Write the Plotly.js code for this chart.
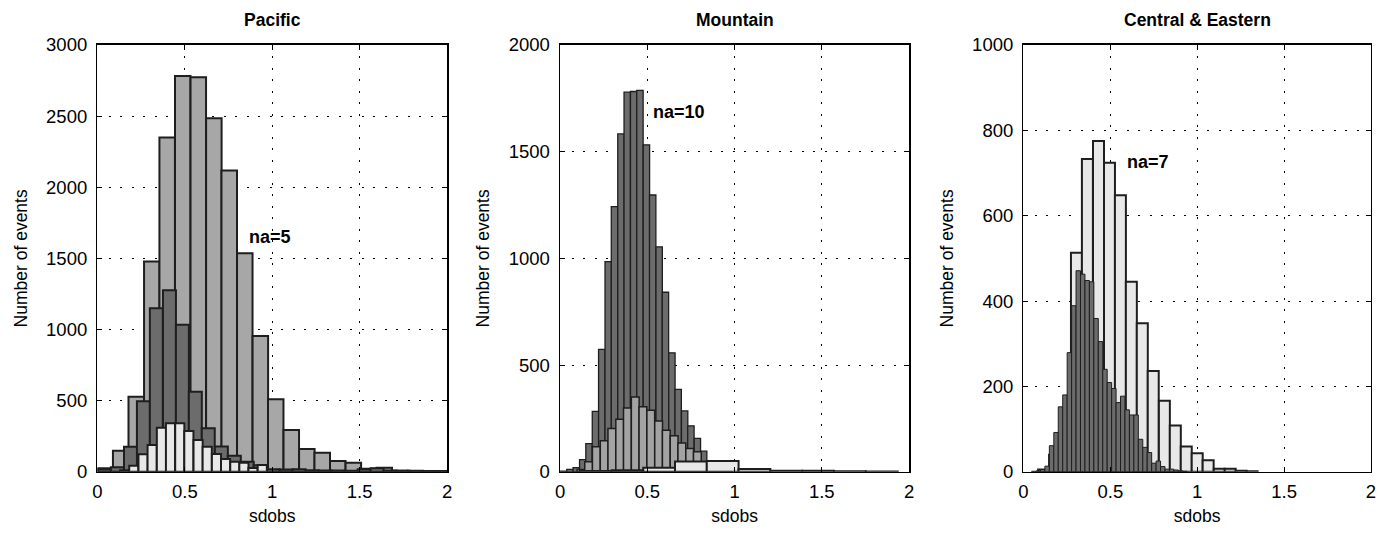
<!DOCTYPE html>
<html>
<head>
<meta charset="utf-8">
<script src="https://cdn.plot.ly/plotly-3.0.1.min.js"></script>
<style>html,body{margin:0;padding:0;background:#fff;}#chart{width:1390px;height:535px;}</style>
</head>
<body>
<div id="chart"></div>
<script>
// ---------------- data ----------------
const panelTitles = ['Pacific', 'Mountain', 'Central & Eastern'];
const naLabels = ['na=5', 'na=10', 'na=7'];
const xTickVals = [0, 0.5, 1, 1.5, 2];
const xTickText = ['0', '0.5', '1', '1.5', '2'];

// Pacific
const pacMedX = [0.044, 0.133, 0.222, 0.311, 0.399, 0.488, 0.577, 0.666, 0.754, 0.843, 0.932, 1.020, 1.109, 1.198, 1.286, 1.375, 1.464, 1.553, 1.641, 1.730, 1.819, 1.908, 1.996];
const pacMedY = [24, 148, 527, 1477, 2349, 2782, 2773, 2485, 2117, 1536, 954, 509, 293, 160, 134, 75, 63, 21, 28, 7, 7, 5, 5];
const pacDarkX = [0.040, 0.114, 0.189, 0.263, 0.337, 0.412, 0.486, 0.560, 0.634, 0.709, 0.783, 0.857, 0.931, 1.006, 1.080, 1.154, 1.229, 1.303, 1.377, 1.451, 1.526, 1.600, 1.674, 1.749, 1.823, 1.897, 1.971];
const pacDarkY = [17, 31, 176, 495, 1149, 1275, 1034, 563, 305, 178, 113, 70, 46, 17, 15, 17, 10, 8, 8, 7, 18, 24, 8, 6, 5, 4, 4];
const pacLightX = [0.156, 0.208, 0.261, 0.313, 0.366, 0.418, 0.471, 0.523, 0.576, 0.628, 0.681, 0.733, 0.786, 0.838, 0.890, 0.943];
const pacLightY = [10, 42, 122, 188, 309, 340, 340, 286, 223, 176, 124, 89, 70, 63, 26, 47];

// Mountain
const mtnDarkX = [0.020, 0.057, 0.093, 0.130, 0.166, 0.203, 0.239, 0.276, 0.312, 0.349, 0.385, 0.422, 0.458, 0.495, 0.531, 0.568, 0.604, 0.641, 0.677, 0.714, 0.750, 0.787, 0.823, 0.860, 0.896, 0.933, 0.969];
const mtnDarkY = [3, 11, 19, 57, 132, 283, 573, 985, 1242, 1583, 1779, 1782, 1787, 1532, 1297, 1054, 841, 557, 386, 285, 215, 156, 96, 50, 20, 10, 5];
const mtnMedX = [0.120, 0.164, 0.208, 0.253, 0.297, 0.342, 0.386, 0.431, 0.475, 0.520, 0.565, 0.609, 0.654, 0.698, 0.743, 0.787, 0.832];
const mtnMedY = [10, 47, 117, 145, 202, 246, 299, 350, 304, 288, 238, 194, 168, 135, 109, 93, 30];
const mtnLightX = [0.205, 0.387, 0.568, 0.750, 0.932, 1.114, 1.297, 1.479, 1.661, 1.844];
const mtnLightY = [3, 7, 19, 48, 50, 13, 5, 4, 2, 1];

// Central & Eastern
const cenLightX = [0.116, 0.179, 0.242, 0.305, 0.368, 0.432, 0.495, 0.558, 0.621, 0.684, 0.747, 0.811, 0.874, 0.937, 1.000, 1.063, 1.127, 1.190, 1.253, 1.316];
const cenLightY = [5, 40, 140, 513, 733, 775, 724, 648, 445, 348, 236, 166, 108, 59, 43, 27, 7, 7, 2, 1];
const cenDarkX = [0.0595, 0.0851, 0.1107, 0.1363, 0.1619, 0.1875, 0.2131, 0.2387, 0.2643, 0.2899, 0.3155, 0.3411, 0.3667, 0.3923, 0.4179, 0.4435, 0.4691, 0.4947, 0.5203, 0.5459, 0.5715, 0.5971, 0.6227, 0.6483, 0.6739, 0.6995, 0.7251, 0.7507, 0.7763, 0.8019, 0.8275, 0.8531, 0.8787, 0.9043, 0.9299];
const cenDarkY = [1, 2, 5, 13, 61, 92, 152, 180, 279, 389, 471, 463, 448, 445, 359, 305, 240, 209, 195, 162, 177, 145, 133, 133, 76, 57, 45, 20, 25, 12, 6, 6, 4, 2, 1];

// ---------------- style ----------------
const FONT = 'Liberation Sans, Arial, Helvetica, sans-serif';
const EDGE = '#1e1e1e';
const C_MED = '#a7a7a7', C_DARK = '#6c6c6c', C_LIGHT = '#e8e8e8';

function bars(x, y, w, color, lw, ax) {
  return {
    type: 'bar', x: x, y: y, width: w,
    marker: {color: color, line: {color: EDGE, width: lw}},
    xaxis: 'x' + ax, yaxis: 'y' + ax, hoverinfo: 'skip', showlegend: false
  };
}

const data = [
  bars(pacMedX, pacMedY, 0.0887, C_MED, 2, ''),
  bars(pacDarkX, pacDarkY, 0.0743, C_DARK, 2, ''),
  bars(pacLightX, pacLightY, 0.0524, C_LIGHT, 2, ''),
  bars(mtnDarkX, mtnDarkY, 0.0365, C_DARK, 1.3, '2'),
  bars(mtnMedX, mtnMedY, 0.04455, '#a3a3a3', 1.5, '2'),
  bars(mtnLightX, mtnLightY, 0.1823, C_LIGHT, 2, '2'),
  bars(cenLightX, cenLightY, 0.0632, C_LIGHT, 2, '3'),
  bars(cenDarkX, cenDarkY, 0.0256, C_DARK, 1, '3')
];

const xDomains = [[0.0701, 0.3216], [0.4029, 0.6540], [0.7363, 0.9863]];
const yDomain = [0.1183, 0.9159];
const yRanges = [[0, 3000], [0, 2000], [0, 1000]];
const yDticks = [500, 500, 200];

function xaxis(i) {
  return {
    domain: xDomains[i], range: [0, 2], anchor: i === 0 ? 'y' : 'y' + (i + 1),
    tickvals: xTickVals, ticktext: xTickText,
    showline: true, linecolor: '#000', linewidth: 1.5, mirror: 'ticks',
    ticks: 'inside', ticklen: 5, tickcolor: '#000', tickwidth: 1,
    showgrid: true, gridcolor: '#000', gridwidth: 1, griddash: '2px,9.5px',
    zeroline: false, automargin: false, fixedrange: true,
    tickfont: {family: FONT, size: 18.5, color: '#000'}, ticklabelstandoff: 3,
    title: {text: 'sdobs', font: {family: FONT, size: 17.5, color: '#000'}, standoff: 8}
  };
}
function yaxis(i) {
  return {
    domain: yDomain, range: yRanges[i], dtick: yDticks[i], anchor: i === 0 ? 'x' : 'x' + (i + 1),
    showline: true, linecolor: '#000', linewidth: 1.5, mirror: 'ticks',
    ticks: 'inside', ticklen: 5, tickcolor: '#000', tickwidth: 1,
    showgrid: true, gridcolor: '#000', gridwidth: 1, griddash: '2px,9.5px',
    zeroline: false, automargin: false, fixedrange: true,
    tickfont: {family: FONT, size: 18.5, color: '#000'}, ticklabelstandoff: 5,
    title: {text: 'Number of events', font: {family: FONT, size: 17.5, color: '#000'}, standoff: 14}
  };
}

const naPos = [[0.857, 1653, 'x', 'y'], [0.519, 1684, 'x2', 'y2'], [0.584, 726, 'x3', 'y3']];
const annotations = [];
panelTitles.forEach((t, i) => {
  annotations.push({
    text: '<b>' + t + '</b>', xref: 'paper', yref: 'paper',
    x: (xDomains[i][0] + xDomains[i][1]) / 2, y: 1 - 20 / 535,
    xanchor: 'center', yanchor: 'middle', showarrow: false,
    font: {family: FONT, size: 17.5, color: '#000'}
  });
  annotations.push({
    text: '<b>' + naLabels[i] + '</b>', xref: naPos[i][2], yref: naPos[i][3],
    x: naPos[i][0], y: naPos[i][1], xanchor: 'left', yanchor: 'middle', showarrow: false,
    font: {family: FONT, size: 18, color: '#000'}
  });
});

const layout = {
  width: 1390, height: 535,
  margin: {l: 0, r: 0, t: 0, b: 0},
  paper_bgcolor: '#fff', plot_bgcolor: '#fff',
  barmode: 'overlay', bargap: 0,
  showlegend: false,
  xaxis: xaxis(0), yaxis: yaxis(0),
  xaxis2: xaxis(1), yaxis2: yaxis(1),
  xaxis3: xaxis(2), yaxis3: yaxis(2),
  annotations: annotations
};

Plotly.newPlot('chart', data, layout, {staticPlot: true, displayModeBar: false});
</script>
</body>
</html>
